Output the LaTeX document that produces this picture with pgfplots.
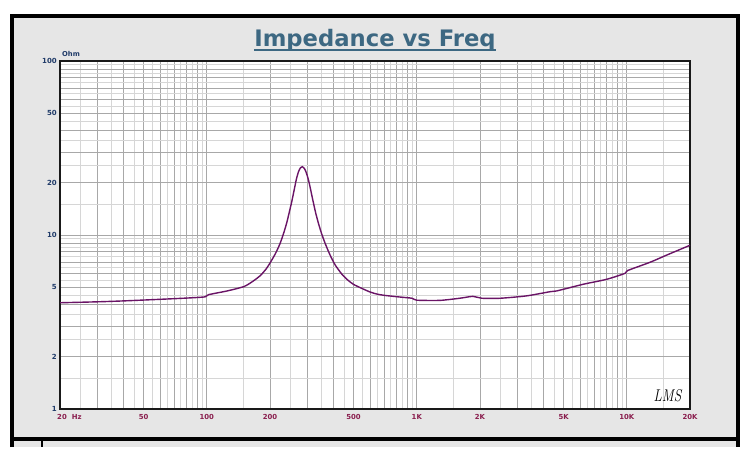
\documentclass[border=0pt]{standalone}
\usepackage{fontspec}
\setmainfont{DejaVu Sans}
\usepackage{pgfplots}
\pgfplotsset{compat=1.18}
\definecolor{titleblue}{HTML}{3D6882}
\definecolor{ylab}{HTML}{1F3A68}
\definecolor{xlab}{HTML}{8A1E4E}
\definecolor{curvec}{HTML}{6A1466}
\definecolor{bggray}{HTML}{E6E6E6}
\definecolor{griddark}{HTML}{A8A8A8}
\definecolor{gridlight}{HTML}{D6D6D6}
\begin{document}
\begin{tikzpicture}[x=1pt,y=1pt]
\useasboundingbox (0,0) rectangle (750,475);
\fill[white] (0,0) rectangle (750,475);
\fill[bggray] (10,28) rectangle (740,461);
\draw[black, line width=4pt] (12,28) -- (12,459) -- (737.5,459) -- (737.5,28);
\draw[black, line width=4pt] (10,36) -- (740,36);
\draw[black, line width=2pt] (41.5,36) -- (41.5,28);
% title
\node[anchor=base, inner sep=0pt, text=titleblue, font=\bfseries\fontsize{22.7}{24}\selectfont] (t) at (375,428.3) {Impedance vs Freq};
\draw[titleblue, line width=2pt] ([yshift=-3.8pt]t.base west) -- ([yshift=-3.8pt]t.base east);
\node[anchor=south west, inner sep=0pt, text=ylab, font=\bfseries\fontsize{6.8}{8}\selectfont] at (62,418.5) {Ohm};
\begin{axis}[
  at={(60pt,66pt)}, anchor=south west,
  scale only axis, width=630pt, height=348pt,
  xmode=log, ymode=log,
  xmin=20, xmax=20000, ymin=1, ymax=100,
  axis background/.style={fill=white},
  axis line style={line width=1.2pt, black!90},
  major tick length=0pt, minor tick length=0pt,
  xtick={20,30,40,50,60,70,80,90,100,200,300,400,500,600,700,800,900,1000,2000,3000,4000,5000,6000,7000,8000,9000,10000,20000},
  minor xtick={25,35,45,55,65,75,85,95,150,250,350,450,550,650,750,850,950,1500,2500,3500,4500,5500,6500,7500,8500,9500,15000},
  ytick={1,2,3,4,5,6,7,8,9,10,20,30,40,50,60,70,80,90,100},
  minor ytick={1.5,2.5,3.5,4.5,5.5,6.5,7.5,8.5,9.5,15,25,35,45,55,65,75,85,95},
  xticklabels={}, yticklabels={},
  grid=both,
  major grid style={griddark, line width=0.8pt},
  minor grid style={gridlight, line width=0.8pt},
  extra x ticks={20,50,100,200,500,1000,2000,5000,10000,20000},
  extra x tick labels={\hspace*{4pt}20\rlap{\hspace{5pt}Hz},50,100,200,500,1K,2K,5K,10K,20K},
  extra x tick style={grid=none, tick label style={font=\bfseries\fontsize{6.9}{8}\selectfont, text=xlab, inner sep=0pt, anchor=north, yshift=-5pt}},
  extra y ticks={1,2,5,10,20,50,100},
  extra y tick labels={1,2,5,10,20,50,100},
  extra y tick style={grid=none, tick label style={font=\bfseries\fontsize{7}{8}\selectfont, text=ylab, inner sep=0pt, anchor=east, xshift=-3pt}},
]
\addplot[curvec, line width=1.4pt, smooth, tension=0.4] coordinates {
(20,4.08) (30,4.13) (40,4.18) (60,4.27) (80,4.34) (98,4.41) (102,4.54)
(125,4.77) (150,5.05) (165,5.4) (180,5.85) (192,6.4) (200,6.9) (212,7.8)
(223,8.9) (232,10.2) (240,11.7) (247,13.5) (254,15.6) (261,18.3) (267,20.9)
(273,23.0) (279,24.3) (285,24.7) (291,24.2) (297,23.0) (304,21.0) (310,19.0)
(316,17.0) (322,15.3) (330,13.4) (340,11.7) (352,10.2) (366,8.96) (385,7.75) (408,6.75)
(440,5.95) (470,5.5) (500,5.2) (550,4.92) (600,4.7) (644,4.58) (700,4.5)
(832,4.4) (950,4.33) (1000,4.22) (1290,4.21) (1600,4.33) (1850,4.44) (2040,4.33)
(2500,4.33) (3340,4.47) (4300,4.72) (4640,4.77) (6200,5.21) (8000,5.56)
(9800,6.02) (10100,6.25) (12900,6.97) (15500,7.67) (20000,8.73)
};
\end{axis}
\node[inner sep=0pt, xscale=0.8, font=\fontfamily{lmr}\itshape\fontsize{17}{17}\selectfont] at (667.5,79) {LMS};
\end{tikzpicture}
\end{document}
